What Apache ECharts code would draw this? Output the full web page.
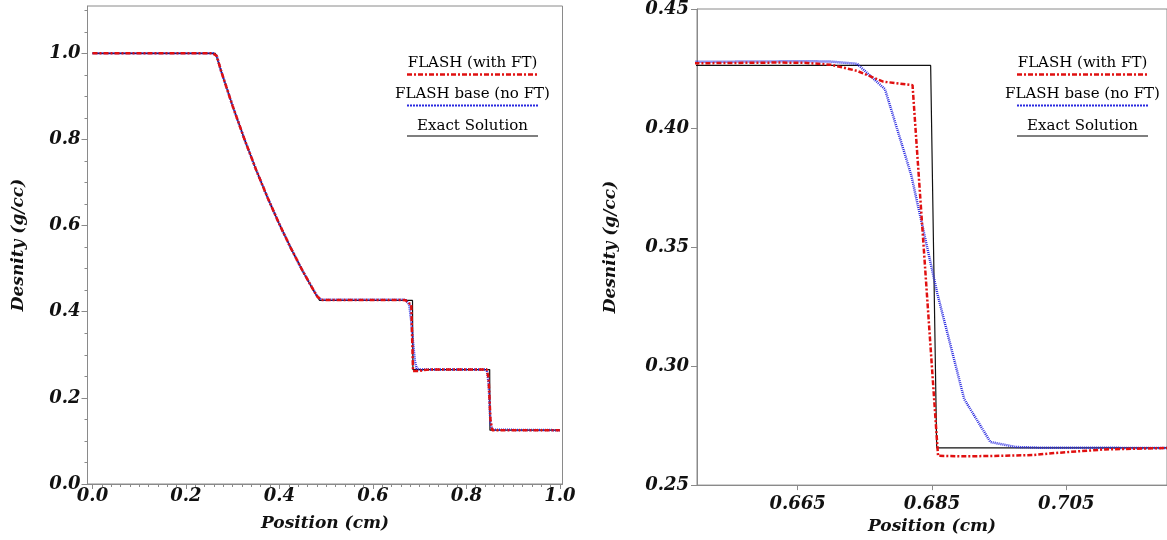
<!DOCTYPE html>
<html>
<head>
<meta charset="utf-8">
<script src="https://cdn.jsdelivr.net/npm/echarts@6/dist/echarts.min.js"></script>
<style>
  html, body { margin: 0; padding: 0; background: #fff; }
  #chart { width: 1167px; height: 540px; }
</style>
</head>
<body>
<div id="chart"></div>
<script>
// Sod shock tube density, FLASH vs exact
var exactX = [0.0, 0.263, 0.275, 0.30, 0.325, 0.35, 0.375, 0.40, 0.425, 0.45, 0.475, 0.486,
  0.6848, 0.6857, 0.8500, 0.8505, 1.0]
var exactY = [1.0, 1.0, 0.9597, 0.8775, 0.8011, 0.7300, 0.6641, 0.6030, 0.5466, 0.4942, 0.4461, 0.4263,
  0.4263, 0.2656, 0.2656, 0.125, 0.125]

var ftX = [0.0, 0.258, 0.266, 0.275, 0.30, 0.325, 0.35, 0.375, 0.40, 0.425, 0.45, 0.475, 0.482, 0.490,
  0.60, 0.650, 0.66211, 0.66602, 0.66992, 0.67383, 0.67773, 0.6821, 0.6859, 0.68945, 0.69336,
  0.700, 0.7034, 0.7108, 0.72, 0.8438, 0.8477, 0.8516, 0.8555, 1.0]
var ftY = [1.0, 1.0, 0.994, 0.9597, 0.8775, 0.8011, 0.7300, 0.6641, 0.6030, 0.5466, 0.4942, 0.4461, 0.434, 0.4275,
  0.4274, 0.4272, 0.4275, 0.4274, 0.4266, 0.4240, 0.4195, 0.4180, 0.2623, 0.2621, 0.2622,
  0.2626, 0.2635, 0.2650, 0.2656, 0.2656, 0.245, 0.150, 0.125, 0.125]

var baseX = [0.0, 0.258, 0.266, 0.275, 0.30, 0.325, 0.35, 0.375, 0.40, 0.425, 0.45, 0.475, 0.482, 0.490,
  0.60, 0.650, 0.66211, 0.66602, 0.66992, 0.67383, 0.6780, 0.6819, 0.6858, 0.6898, 0.6937,
  0.6975, 0.70117, 0.72, 0.8438, 0.8477, 0.8516, 0.8555, 1.0]
var baseY = [1.0, 1.0, 0.994, 0.9597, 0.8775, 0.8011, 0.7300, 0.6641, 0.6030, 0.5466, 0.4942, 0.4461, 0.434, 0.4276,
  0.4278, 0.4278, 0.4280, 0.4281, 0.4279, 0.4270, 0.4163, 0.3803, 0.3304, 0.2861, 0.2681,
  0.2660, 0.2657, 0.2656, 0.2656, 0.235, 0.140, 0.126, 0.125]

var leftXTicks = [0.0, 0.2, 0.4, 0.6, 0.8, 1.0]
var leftYTicks = [0.0, 0.2, 0.4, 0.6, 0.8, 1.0]
var rightXTicks = [0.665, 0.685, 0.705]

var legendNames = ['FLASH (with FT)', 'FLASH base (no FT)', 'Exact Solution']

// minor ticks on left panel
var leftXMinor = []
for (var i = 1; i < 50; i++) if (i % 10 !== 0) leftXMinor.push(i / 50)
var leftYMinor = []
for (var j = 1; j <= 22; j++) if (j % 4 !== 0) leftYMinor.push(j / 20)

function pairs(xs, ys) {
  return xs.map(function (x, k) { return [x, ys[k]] })
}

var axisGray = '#8a8a8a'
var labelFont = {
  fontFamily: 'DejaVu Serif', fontStyle: 'italic', fontWeight: 'bold', fontSize: 18, color: '#111'
}
var nameFont = {
  fontFamily: 'DejaVu Serif', fontStyle: 'italic', fontWeight: 'bold', fontSize: 17, color: '#111'
}

function mainX(grid, min, max, ticks, digits, margin, gap) {
  return {
    type: 'value', gridIndex: grid, min: min, max: max, position: 'bottom',
    name: 'Position (cm)', nameLocation: 'middle', nameGap: gap, nameTextStyle: nameFont,
    axisLine: { onZero: false, lineStyle: { color: axisGray } },
    axisTick: { customValues: ticks, length: 5, lineStyle: { color: axisGray } },
    axisLabel: Object.assign({ customValues: ticks, margin: margin,
      formatter: function (v) { return v.toFixed(digits) } }, labelFont),
    splitLine: { show: false }
  }
}
function minorAxis(grid, min, max, ticks, pos) {
  return {
    type: 'value', gridIndex: grid, min: min, max: max, position: pos,
    axisLine: { show: false, onZero: false },
    axisTick: { customValues: ticks, length: 3, lineStyle: { color: axisGray } },
    axisLabel: { show: false },
    splitLine: { show: false }
  }
}

var chart = echarts.init(document.getElementById('chart'))

var legendGraphics = []
;[407, 1017].forEach(function (x0) {
  var cx = x0 + 65.5
  var rows = [
    { ty: 63, ly: 74.5, color: '#e01010', dash: [5, 2, 2, 2], w: 2.5 },
    { ty: 94, ly: 105.5, color: '#2828e0', dash: [2, 1], w: 2 },
    { ty: 126, ly: 136, color: '#555', dash: null, w: 1.5 }
  ]
  rows.forEach(function (r, k) {
    legendGraphics.push({
      type: 'text', x: cx, y: r.ty,
      style: { text: legendNames[k], textAlign: 'center', textVerticalAlign: 'middle',
        font: '15px "DejaVu Serif"', fill: '#000' }
    })
    legendGraphics.push({
      type: 'line', shape: { x1: x0, y1: r.ly, x2: x0 + 131, y2: r.ly },
      style: { stroke: r.color, lineWidth: r.w, lineDash: r.dash }
    })
  })
})

function seriesFor(xi, yi) {
  return [
    { name: legendNames[2], type: 'line', xAxisIndex: xi, yAxisIndex: yi, data: pairs(exactX, exactY),
      showSymbol: false, lineStyle: { color: '#111', width: 1.2 } },
    { name: legendNames[1], type: 'line', xAxisIndex: xi, yAxisIndex: yi, data: pairs(baseX, baseY),
      showSymbol: false, lineStyle: { color: '#2828e0', width: 2.5, type: [1, 1] } },
    { name: legendNames[0], type: 'line', xAxisIndex: xi, yAxisIndex: yi, data: pairs(ftX, ftY),
      showSymbol: false, lineStyle: { color: '#e01010', width: 2.5, type: [5, 2, 2, 2] } }
  ]
}

option = {
  animation: false,
  backgroundColor: '#fff',
  grid: [
    { left: 87.5, right: 604.5, top: 6, bottom: 56, show: true, borderColor: axisGray, borderWidth: 1 },
    { left: 697, right: -5.6, top: 6, bottom: 53.5, show: true, borderColor: axisGray, borderWidth: 1 }
  ],
  xAxis: [
    mainX(0, -0.0107, 1.0058, leftXTicks, 1, 3, 31),
    minorAxis(0, -0.0107, 1.0058, leftXMinor, 'bottom'),
    mainX(1, 0.65, 0.72, rightXTicks, 3, 10, 29)
  ],
  yAxis: [
    {
      type: 'value', gridIndex: 0, min: 0, max: 1.11, position: 'left',
      name: 'Desnity (g/cc)', nameLocation: 'middle', nameGap: 60, nameTextStyle: nameFont,
      axisLine: { onZero: false, lineStyle: { color: axisGray } },
      axisTick: { customValues: leftYTicks, length: 6, lineStyle: { color: axisGray } },
      axisLabel: Object.assign({ customValues: leftYTicks, margin: 7,
        formatter: function (v) { return v.toFixed(1) } }, labelFont),
      splitLine: { show: false }
    },
    minorAxis(0, 0, 1.11, leftYMinor, 'left'),
    {
      type: 'value', gridIndex: 1, min: 0.25, max: 0.45, interval: 0.05, position: 'left',
      name: 'Desnity (g/cc)', nameLocation: 'middle', nameGap: 78, nameTextStyle: nameFont,
      axisLine: { onZero: false, lineStyle: { color: axisGray } },
      axisTick: { length: 6, lineStyle: { color: axisGray } },
      axisLabel: Object.assign({ margin: 8,
        formatter: function (v) { return v.toFixed(2) } }, labelFont),
      splitLine: { show: false }
    }
  ],
  graphic: legendGraphics,
  series: seriesFor(0, 0).concat(seriesFor(2, 2))
}
chart.setOption(option)
</script>
</body>
</html>
